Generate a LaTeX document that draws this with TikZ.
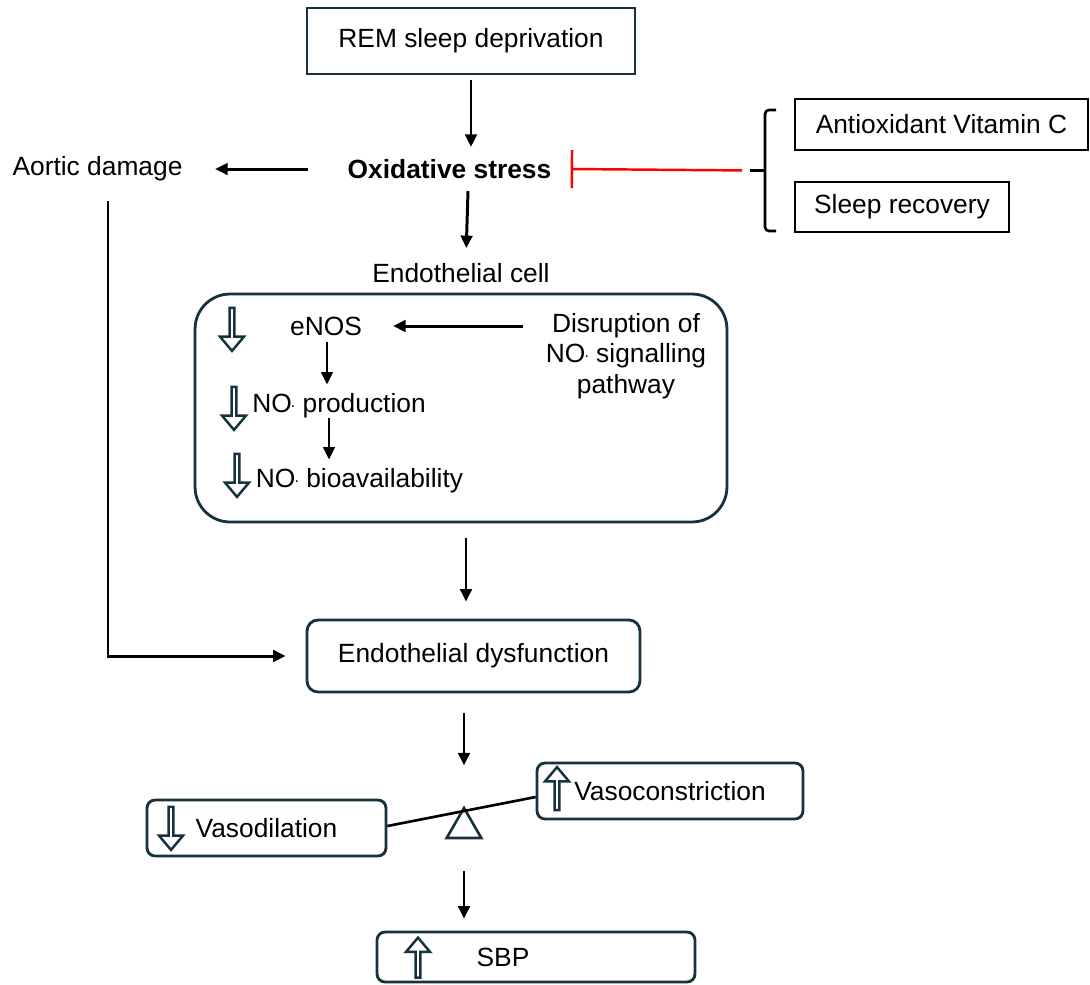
\documentclass[tikz,border=0pt]{standalone}
\usepackage{fontspec}
\setmainfont{Liberation Sans}
\usepackage{xcolor}
\usepackage{tikz}
\usetikzlibrary{arrows.meta, shapes.arrows, shapes.geometric, positioning}
\definecolor{boxnavy}{HTML}{17323F}
\newcommand{\noradical}{NO\kern-0.5pt\raisebox{0.4ex}{\small.}}

\begin{document}
\begin{tikzpicture}[
        x=0.02cm, y=-0.02cm,
        font=\fontsize{15}{18.7}\selectfont,
        box/.style={rectangle, draw=boxnavy, line width=1.6pt, align=center},
        roundbox/.style={box, rounded corners=0.22cm},
        thinbox/.style={rectangle, draw=black, line width=1.1pt, align=center},
        arrow/.style={-{Triangle[length=0.25cm, width=0.23cm]}, line width=1.7pt},
        inhibit/.style={-{Bar[width=0.76cm]}, draw=red, line width=1.4pt},
        hollow/.style={single arrow, draw=boxnavy, fill=white, line width=1.4pt, inner sep=0pt, minimum height=0.86cm, minimum width=0.48cm, single arrow head extend=0.1cm, single arrow tip angle=80},
        hollowdown/.style={hollow, rotate=-90},
        hollowup/.style={hollow, rotate=90}
    ]
        \useasboundingbox (0,0) rectangle (1090,985);

        \node[box, minimum width=6.56cm, minimum height=1.32cm] (rem) at (471,41) {REM sleep deprivation};
        \node[font=\fontsize{15}{18}\selectfont\bfseries, inner xsep=0.38cm, inner ysep=0.24cm] (ox) at (449.5,169) {Oxidative stress};
        \node (aortic) at (97.5,169) {Aortic damage};
        \node[thinbox, minimum width=5.86cm, minimum height=1.02cm] (vitc) at (941.5,124.5) {Antioxidant Vitamin C};
        \node[thinbox, minimum width=4.28cm, minimum height=1cm] (recovery) at (902,207) {Sleep recovery};
        % square brace
        \coordinate (brtip) at (750,170.5);
        \draw[line width=1.5pt, rounded corners=0.08cm] (776,110) -- (765,110) -- (765,231) -- (776,231);
        \draw[line width=1.5pt] (brtip) -- ++(15,0);

        % endothelial cell
        \node (eclabel) at (461,273) {Endothelial cell};
        \node[box, rounded corners=0.7cm, minimum width=10.64cm, minimum height=4.56cm] (cell) at (461,408) {};
        \node (enos) at (326,326) {eNOS};
        \node[hollowdown] (dn1) at (232,328) {};
        \node (prod) at (339,406) {\noradical{} production};
        \node[hollowdown] (dn2) at (234,407) {};
        \node (bio) at (359.5,481) {\noradical{} bioavailability};
        \node[hollowdown] (dn3) at (237,474) {};
        \node[align=center, font=\fontsize{15}{17.5}\selectfont] (disr) at (626,356) {Disruption of\\\noradical{} signalling\\pathway};

        \node[roundbox, minimum width=6.66cm, minimum height=1.44cm] (dys) at (473.5,656) {Endothelial dysfunction};

        % balance
        \node[roundbox, rounded corners=0.16cm, minimum width=4.78cm, minimum height=1.12cm] (vdil) at (266.5,828) {Vasodilation};
        \node[hollowdown] (dn4) at (171,827) {};
        \node[roundbox, rounded corners=0.16cm, minimum width=5.32cm, minimum height=1.12cm] (vcon) at (670,791) {Vasoconstriction};
        \node[hollowup] (up1) at (557,790) {};
        \node[regular polygon, regular polygon sides=3, draw=boxnavy, line width=1.5pt, minimum size=0.8cm, inner sep=0pt] (fulcrum) at (464,828) {};
        \node[roundbox, rounded corners=0.16cm, minimum width=6.36cm, minimum height=1cm] (sbp) at (536,957) {SBP\hspace*{1.32cm}};
        \node[hollowup, minimum height=0.8cm] (up2) at (418,959) {};

        \draw[arrow, shorten <=0.1cm] (rem.south) -- (rem.south |- ox.north);
        \draw[arrow, shorten >=0.18cm] ([xshift=-0.06cm]rem.south |- ox.south) -- ([xshift=-0.1cm]rem.south |- eclabel.north);
        \draw[arrow, shorten <=0.4cm, shorten >=0.53cm] (ox.west) -- (aortic.east);
        \draw[inhibit, shorten <=0.16cm] (brtip) -- (ox.east);
        \draw[arrow, shorten >=0.4cm] ([xshift=0.21cm, yshift=-0.28cm]aortic.south) |- (dys.west);
        \draw[arrow, shorten <=0.33cm, shorten >=0.5cm] (enos.east -| disr.west) -- (enos.east);
        \draw[arrow, shorten >=0.06cm] ([xshift=0.02cm]enos.south) -- ([xshift=0.02cm]enos.south |- prod.north);
        \draw[arrow, shorten <=-0.14cm, shorten >=0.06cm] ([xshift=0.06cm]enos.south |- prod.south) -- ([xshift=0.06cm]enos.south |- bio.north);
        \draw[arrow, shorten <=0.3cm, shorten >=0.34cm] ([xshift=0.1cm]cell.south) -- ([xshift=0.1cm]cell.south |- dys.north);
        \draw[arrow, shorten <=0.4cm, shorten >=0.8cm] (dys.south -| fulcrum.corner 1) -- (fulcrum.corner 1);
        \draw[line width=1.5pt] ([yshift=0.04cm]vdil.east) -- ([yshift=-0.12cm]vcon.west);
        \draw[arrow, shorten <=0.64cm, shorten >=0.24cm] (fulcrum.south) -- (fulcrum.south |- sbp.north);
    \end{tikzpicture}
\end{document}
